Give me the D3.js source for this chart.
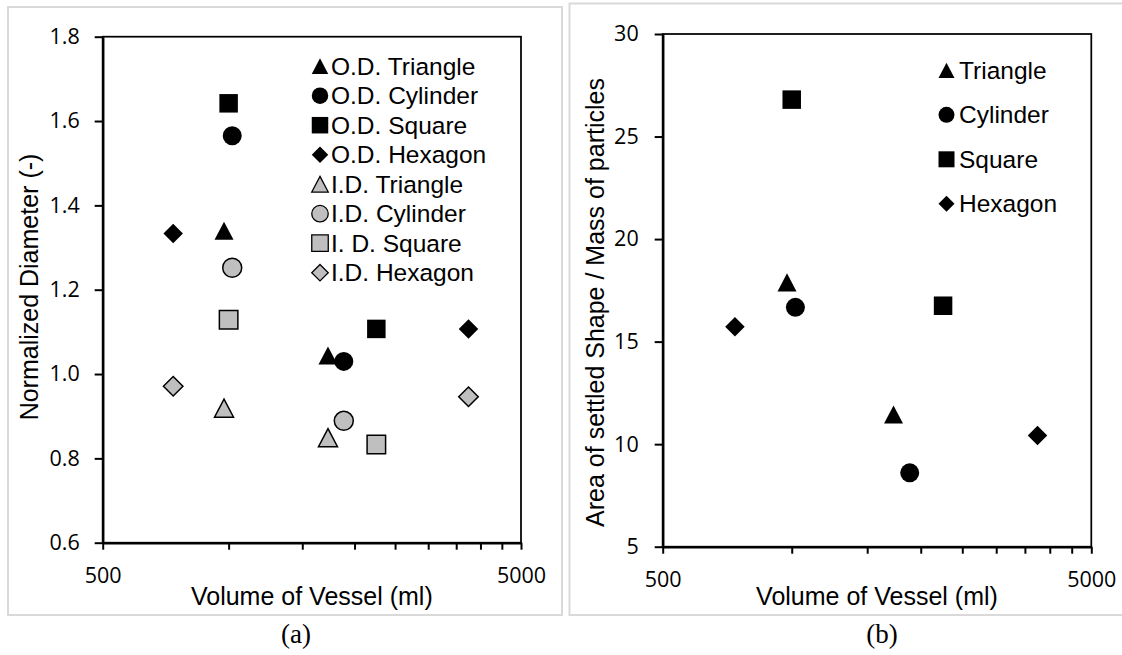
<!DOCTYPE html>
<html>
<head>
<meta charset="utf-8">
<script src="https://cdn.jsdelivr.net/npm/d3@7"></script>
<style>
  html, body { margin: 0; padding: 0; background: #fff; }
  svg { display: block; }
</style>
</head>
<body>
<svg id="chart" width="1122" height="655"></svg>
<script>
// ---------------- DATA ----------------
const shapes = ["Triangle", "Cylinder", "Square", "Hexagon"];
// vessel volumes (ml) for each shape, two vessels each
const volTriangle = [975, 1728];
const volCylinder = [1020, 1885];
const volSquare   = [1000, 2255];
const volHexagon  = [737, 3745];
// (a) normalized diameter
const odTriangle = [1.340, 1.044];
const odCylinder = [1.565, 1.030];
const odSquare   = [1.642, 1.107];
const odHexagon  = [1.333, 1.107];
const idTriangle = [0.919, 0.849];
const idCylinder = [1.252, 0.889];
const idSquare   = [1.129, 0.833];
const idHexagon  = [0.971, 0.946];
// (b) area of settled shape / mass of particles
const areaTriangle = [17.89, 11.45];
const areaCylinder = [16.67, 8.60];
const areaSquare   = [26.80, 16.75];
const areaHexagon  = [15.72, 10.42];
// axes
const xTickValues = [500, 1000, 1500, 2000, 2500, 3000, 3500, 4000, 4500, 5000];
const xLabeledTicks = [500, 5000];
const yTicksA = [0.6, 0.8, 1.0, 1.2, 1.4, 1.6, 1.8];
const yTicksB = [5, 10, 15, 20, 25, 30];
const legendA = ["O.D. Triangle", "O.D. Cylinder", "O.D. Square", "O.D. Hexagon",
                 "I.D. Triangle", "I.D. Cylinder", "I. D. Square", "I.D. Hexagon"];
const legendB = ["Triangle", "Cylinder", "Square", "Hexagon"];

// ---------------- SYMBOLS ----------------
const symTriangle = { draw(ctx, size) { const w = Math.sqrt(size), h = w * 0.95;
  ctx.moveTo(0, -h / 2); ctx.lineTo(w / 2, h / 2); ctx.lineTo(-w / 2, h / 2); ctx.closePath(); } };
const symCircle = { draw(ctx, size) { const r = Math.sqrt(size) / 2;
  ctx.moveTo(r, 0); ctx.arc(0, 0, r, 0, 2 * Math.PI); } };
const symSquare = { draw(ctx, size) { const s = Math.sqrt(size) / 2;
  ctx.rect(-s, -s, 2 * s, 2 * s); } };
const symDiamond = { draw(ctx, size) { const s = Math.sqrt(size) / 2 * 1.0;
  ctx.moveTo(0, -s); ctx.lineTo(s, 0); ctx.lineTo(0, s); ctx.lineTo(-s, 0); ctx.closePath(); } };
const symTypes = { Triangle: symTriangle, Cylinder: symCircle, Square: symSquare, Hexagon: symDiamond };
const symDim = { Triangle: 19, Cylinder: 19, Square: 18.5, Hexagon: 19.5 };
const vols = { Triangle: volTriangle, Cylinder: volCylinder, Square: volSquare, Hexagon: volHexagon };

const GRAY = "#bfbfbf";
const tickFont = "'Open Sans', sans-serif";
const textFont = "'Liberation Sans', Arial, sans-serif";

const svg = d3.select("#chart");

// panel frames
svg.append("rect").attr("x", 8).attr("y", 7).attr("width", 554).attr("height", 608)
  .attr("fill", "none").attr("stroke", "#d9d9d9").attr("stroke-width", 2);
svg.append("rect").attr("x", 569.5).attr("y", 3.5).attr("width", 560).attr("height", 611.5)
  .attr("fill", "none").attr("stroke", "#d9d9d9").attr("stroke-width", 2);

function drawPanel(opt) {
  const x = d3.scaleLog().domain([500, 5000]).range([opt.left, opt.right]);
  const y = d3.scaleLinear().domain(opt.yDomain).range([opt.bottom, opt.top]);
  const g = svg.append("g");

  // plot area border (top/right)
  g.append("rect").attr("x", opt.left).attr("y", opt.top)
    .attr("width", opt.right - opt.left).attr("height", opt.bottom - opt.top)
    .attr("fill", "none").attr("stroke", "#000").attr("stroke-width", 1.75);

  // y axis
  const ya = g.append("g").attr("transform", `translate(${opt.left},0)`)
    .call(d3.axisLeft(y).tickValues(opt.yTicks).tickFormat(opt.yFmt).tickSize(8).tickPadding(opt.yPad).tickSizeOuter(0));
  ya.select(".domain").attr("stroke-width", 2.5);
  ya.selectAll(".tick line").attr("stroke-width", 2);
  ya.selectAll("text").attr("font-family", tickFont).attr("font-size", 21.5).attr("fill", "#000");

  // x axis
  const xa = g.append("g").attr("transform", `translate(0,${opt.bottom})`)
    .call(d3.axisBottom(x).tickValues(xTickValues)
      .tickFormat(d => xLabeledTicks.includes(d) ? String(d) : "").tickSize(7).tickSizeOuter(0));
  xa.select(".domain").attr("stroke-width", 2.5);
  xa.selectAll(".tick line").attr("stroke-width", 2);
  xa.selectAll("text").attr("font-family", tickFont).attr("font-size", 21.5).attr("fill", "#000")
    .attr("y", 40).attr("dy", 0);

  // titles
  g.append("text").attr("x", (opt.left + opt.right) / 2).attr("y", 605)
    .attr("text-anchor", "middle").attr("font-family", textFont).attr("font-size", 25)
    .text("Volume of Vessel (ml)");
  g.append("text").attr("transform", `translate(${opt.yTitleX},${opt.yTitleY}) rotate(-90)`)
    .attr("text-anchor", "middle").attr("font-family", textFont).attr("font-size", 25)
    .text(opt.yTitle);
  g.append("text").attr("x", opt.capX).attr("y", 643).attr("text-anchor", "middle")
    .attr("font-family", "'Liberation Serif', 'Times New Roman', serif").attr("font-size", 27)
    .text(opt.caption);

  // points
  opt.series.forEach(s => {
    const pts = s.values.map((v, i) => ({ vx: vols[s.shape][i], vy: v }));
    const d = symDim[s.shape];
    g.selectAll(null).data(pts).enter().append("path")
      .attr("transform", p => `translate(${x(p.vx)},${y(p.vy)})`)
      .attr("d", d3.symbol().type(symTypes[s.shape]).size(d * d)())
      .attr("fill", s.fill).attr("stroke", s.stroke).attr("stroke-width", s.stroke === "none" ? 0 : 1.5);
  });

  // legend
  const lg = g.append("g");
  opt.series.forEach((s, i) => {
    const cy = opt.legY + i * opt.legStep;
    const d = opt.legSym;
    lg.append("path").attr("transform", `translate(${opt.legX},${cy})`)
      .attr("d", d3.symbol().type(symTypes[s.shape]).size(d * d)())
      .attr("fill", s.fill).attr("stroke", s.stroke).attr("stroke-width", s.stroke === "none" ? 0 : 1.3);
    lg.append("text").attr("x", opt.legTextX).attr("y", cy).attr("dy", "0.35em")
      .attr("font-family", textFont).attr("font-size", 24.5).text(opt.legend[i]);
  });
}

drawPanel({
  left: 102.7, right: 521, top: 36.7, bottom: 542.7,
  yDomain: [0.6, 1.8], yTicks: yTicksA, yFmt: d3.format(".1f"), yPad: 15,
  yTitle: "Normalized Diameter (-)", yTitleX: 38, yTitleY: 287,
  capX: 296, caption: "(a)",
  legX: 320, legTextX: 331, legY: 66.2, legStep: 29.5, legSym: 16.5, legend: legendA,
  series: [
    { shape: "Triangle", values: odTriangle, fill: "#000", stroke: "none" },
    { shape: "Cylinder", values: odCylinder, fill: "#000", stroke: "none" },
    { shape: "Square",   values: odSquare,   fill: "#000", stroke: "none" },
    { shape: "Hexagon",  values: odHexagon,  fill: "#000", stroke: "none" },
    { shape: "Triangle", values: idTriangle, fill: GRAY, stroke: "#000" },
    { shape: "Cylinder", values: idCylinder, fill: GRAY, stroke: "#000" },
    { shape: "Square",   values: idSquare,   fill: GRAY, stroke: "#000" },
    { shape: "Hexagon",  values: idHexagon,  fill: GRAY, stroke: "#000" }
  ]
});

drawPanel({
  left: 662.7, right: 1091.3, top: 34, bottom: 546.7,
  yDomain: [5, 30], yTicks: yTicksB, yFmt: d3.format("d"), yPad: 16,
  yTitle: "Area of settled Shape / Mass of particles", yTitleX: 604, yTitleY: 302.5,
  capX: 882, caption: "(b)",
  legX: 946.5, legTextX: 959, legY: 70.3, legStep: 44.5, legSym: 16, legend: legendB,
  series: [
    { shape: "Triangle", values: areaTriangle, fill: "#000", stroke: "none" },
    { shape: "Cylinder", values: areaCylinder, fill: "#000", stroke: "none" },
    { shape: "Square",   values: areaSquare,   fill: "#000", stroke: "none" },
    { shape: "Hexagon",  values: areaHexagon,  fill: "#000", stroke: "none" }
  ]
});
</script>
</body>
</html>
